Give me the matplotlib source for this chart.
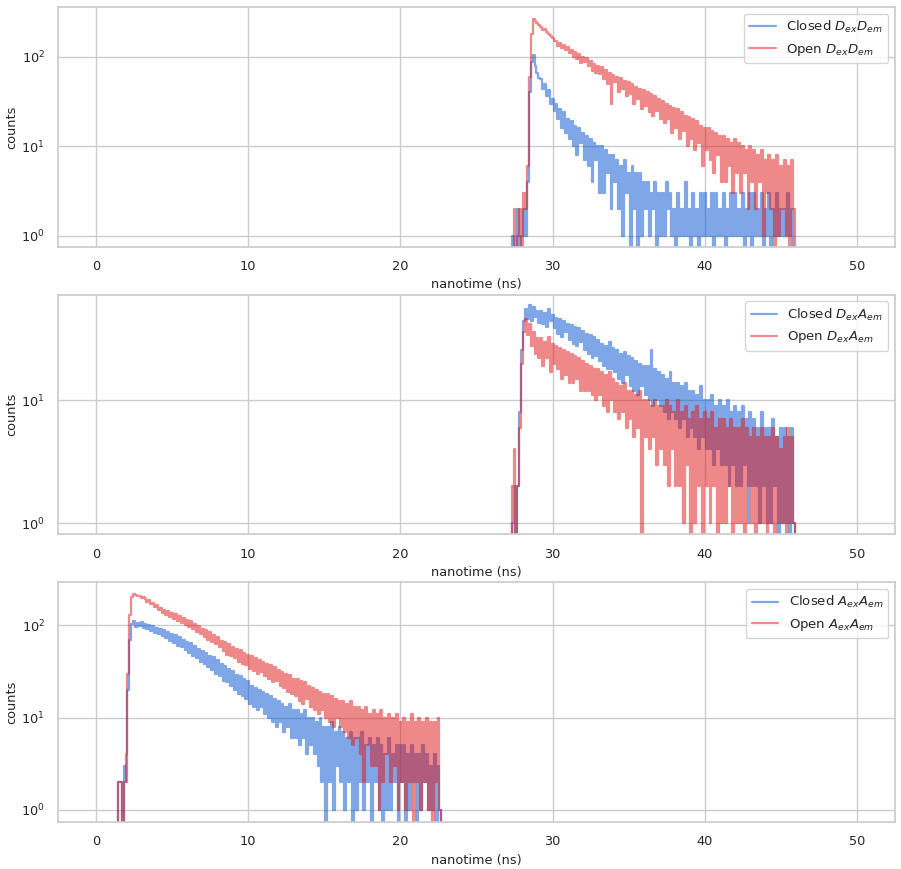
import numpy as np
import matplotlib
matplotlib.use('Agg')
import matplotlib.pyplot as plt
import seaborn as sns

# Photon arrival histograms (counts per 0.125 ns bin).
# Each row of 8 values covers 1 ns.
bin_width = 0.125

# DexDem and DexAem channels start at 27.25 ns
t0_dex = 27.25
closed_dd = [0, 1, 0, 0, 2, 0, 1, 2,
             1, 4, 40, 88, 104, 78, 66, 58,
             56, 44, 50, 36, 42, 30, 34, 25,
             30, 20, 26, 16, 24, 14, 20, 12,
             19, 10, 17, 8, 16, 11, 14, 7,
             13, 6, 12, 4, 11, 7, 10, 3,
             10, 3, 9, 5, 8, 2, 8, 4,
             7, 2, 6, 1, 7, 3, 5, 0,
             6, 2, 5, 0, 5, 1, 4, 2,
             4, 1, 3, 2, 4, 0, 3, 1,
             3, 1, 4, 2, 3, 1, 2, 0,
             3, 1, 2, 1, 4, 1, 2, 0,
             3, 1, 2, 0, 3, 1, 3, 1,
             2, 1, 3, 0, 3, 1, 2, 1,
             3, 0, 2, 1, 3, 1, 3, 1,
             2, 1, 3, 0, 2, 1, 3, 0,
             3, 1, 2, 1, 3, 0, 2, 1,
             3, 0, 2, 1, 3, 1, 2, 1,
             2, 1, 3, 1, 2, 0, 0]
open_dd = [0, 0, 2, 0, 1, 2, 0, 3,
           2, 6, 60, 180, 266, 248, 236, 228,
           214, 200, 206, 188, 180, 172, 164, 150,
           148, 132, 142, 124, 136, 118, 128, 110,
           120, 100, 112, 94, 108, 86, 100, 88,
           96, 78, 90, 70, 84, 66, 78, 64,
           76, 56, 72, 50, 66, 30, 62, 52,
           60, 40, 58, 44, 54, 36, 52, 38,
           50, 30, 46, 34, 44, 26, 42, 28,
           40, 24, 38, 22, 36, 25, 34, 20,
           32, 18, 30, 20, 28, 14, 27, 16,
           26, 12, 24, 15, 22, 10, 21, 12,
           20, 9, 19, 11, 17, 6, 16, 9,
           16, 7, 15, 5, 14, 8, 13, 4,
           13, 4, 12, 6, 11, 3, 12, 5,
           11, 3, 10, 5, 9, 2, 10, 4,
           9, 2, 8, 4, 9, 1, 7, 3,
           8, 2, 7, 0, 8, 1, 6, 2,
           7, 1, 6, 0, 7, 2, 0]
closed_da = [0, 1, 2, 0, 2, 8, 26, 44,
             56, 46, 60, 44, 58, 48, 54, 43,
             54, 42, 52, 40, 56, 44, 50, 39,
             47, 35, 46, 33, 44, 36, 42, 31,
             41, 29, 40, 28, 39, 30, 37, 26,
             35, 24, 34, 22, 33, 23, 31, 21,
             29, 19, 28, 18, 30, 18, 27, 17,
             26, 15, 24, 14, 25, 16, 23, 13,
             22, 12, 21, 11, 20, 13, 19, 11,
             19, 10, 26, 9, 18, 10, 17, 9,
             16, 8, 15, 7, 17, 8, 14, 7,
             14, 6, 13, 7, 14, 5, 12, 6,
             12, 5, 11, 4, 13, 5, 10, 4,
             10, 4, 11, 3, 9, 4, 10, 3,
             9, 3, 10, 2, 8, 3, 9, 2,
             8, 2, 9, 3, 7, 1, 8, 2,
             7, 2, 6, 1, 8, 2, 6, 1,
             6, 1, 7, 2, 5, 0, 6, 1,
             6, 1, 5, 0, 6, 1, 0]
open_da = [0, 2, 4, 0, 2, 6, 20, 36,
           46, 34, 42, 28, 36, 24, 32, 22,
           32, 19, 30, 22, 33, 17, 29, 20,
           28, 18, 27, 15, 26, 16, 25, 14,
           24, 14, 23, 15, 22, 12, 21, 12,
           20, 12, 19, 11, 18, 10, 18, 11,
           17, 9, 16, 8, 17, 10, 15, 8,
           14, 7, 13, 8, 14, 6, 12, 7,
           12, 5, 11, 6, 12, 0, 10, 5,
           10, 4, 9, 5, 10, 3, 9, 4,
           9, 3, 10, 2, 9, 4, 8, 2,
           10, 2, 8, 1, 9, 3, 7, 0,
           8, 1, 9, 2, 7, 0, 8, 2,
           7, 1, 8, 2, 6, 0, 7, 1,
           7, 1, 6, 2, 7, 0, 6, 1,
           6, 1, 7, 0, 6, 2, 5, 1,
           6, 0, 5, 1, 6, 1, 5, 0,
           5, 1, 6, 0, 5, 1, 4, 1,
           5, 0, 6, 1, 5, 1, 0]

# AexAem channel starts at 1.25 ns
t0_aex = 1.25
closed_aa = [0, 0, 2, 2, 0, 3, 2, 20,
             70, 102, 110, 96, 106, 98, 108, 94,
             104, 90, 100, 86, 98, 82, 94, 80,
             92, 76, 88, 72, 84, 68, 80, 64,
             78, 60, 74, 58, 70, 54, 66, 50,
             64, 46, 60, 44, 56, 40, 52, 38,
             50, 35, 47, 33, 45, 30, 42, 28,
             38, 25, 36, 24, 34, 22, 32, 20,
             29, 18, 28, 17, 26, 16, 25, 14,
             22, 13, 21, 12, 20, 13, 19, 11,
             18, 10, 17, 9, 16, 8, 15, 9,
             14, 7, 13, 8, 14, 6, 12, 6,
             12, 5, 11, 6, 12, 4, 10, 5,
             10, 4, 9, 3, 10, 2, 8, 0,
             8, 2, 9, 1, 7, 3, 8, 2,
             7, 1, 6, 2, 7, 0, 6, 1,
             6, 2, 7, 1, 5, 2, 6, 0,
             5, 2, 6, 1, 5, 0, 4, 1,
             6, 1, 4, 2, 5, 0, 5, 2,
             5, 0, 4, 1, 5, 2, 4, 0,
             4, 1, 5, 2, 4, 1, 3, 1,
             4, 0, 3, 1, 0]
open_aa = [0, 0, 2, 2, 0, 2, 4, 30,
           130, 204, 220, 214, 208, 210, 198, 204,
           192, 178, 186, 168, 174, 158, 164, 146,
           152, 136, 148, 128, 142, 124, 136, 118,
           132, 112, 126, 106, 120, 100, 114, 96,
           110, 90, 104, 84, 98, 80, 92, 74,
           88, 70, 84, 66, 78, 62, 74, 58,
           68, 52, 66, 48, 62, 46, 58, 44,
           56, 40, 54, 38, 50, 37, 48, 34,
           46, 32, 44, 30, 42, 31, 40, 28,
           38, 26, 37, 24, 35, 25, 33, 22,
           31, 21, 30, 19, 29, 18, 26, 17,
           26, 15, 25, 14, 24, 16, 22, 13,
           21, 12, 20, 11, 19, 12, 18, 10,
           18, 9, 17, 8, 16, 10, 15, 8,
           15, 7, 14, 6, 15, 5, 13, 6,
           13, 4, 12, 2, 13, 5, 11, 3,
           12, 3, 11, 1, 12, 2, 10, 4,
           11, 2, 10, 3, 11, 1, 9, 2,
           10, 1, 9, 2, 11, 0, 9, 2,
           10, 1, 9, 2, 10, 1, 9, 0,
           9, 2, 10, 1, 0]

panels = [
    (t0_dex, closed_dd, open_dd, '$D_{ex}D_{em}$', (0.755, 359)),
    (t0_dex, closed_da, open_da, '$D_{ex}A_{em}$', (0.81, 72.8)),
    (t0_aex, closed_aa, open_aa, '$A_{ex}A_{em}$', (0.74, 292)),
]

sns.set_theme(style='whitegrid')
plt.rcParams['font.family'] = ['DejaVu Sans']

blue = '#0050d0'
red = '#e11515'

fig, axes = plt.subplots(3, 1, figsize=(9.01, 8.69), dpi=100)
fig.subplots_adjust(left=0.0644, right=0.9933, top=0.9919, bottom=0.0541, hspace=0.2)

for ax, (t0, closed, opened, name, ylim) in zip(axes, panels):
    t_closed = t0 + bin_width * np.arange(len(closed))
    t_open = t0 + bin_width * np.arange(len(opened))
    ax.plot(t_closed, closed, color=blue, alpha=0.5, lw=1.6, drawstyle='steps-mid',
            label='Closed ' + name)
    ax.plot(t_open, opened, color=red, alpha=0.5, lw=1.6, drawstyle='steps-mid',
            label='Open ' + name)
    ax.set_yscale('log')
    ax.set_xlim(-2.5, 52.5)
    ax.set_ylim(*ylim)
    ax.minorticks_off()
    ax.set_xlabel('nanotime (ns)', fontsize=9.3)
    ax.set_ylabel('counts', fontsize=9.3, labelpad=2)
    ax.tick_params(labelsize=9.3)
    ax.legend(loc='upper right', fontsize=9.5)

fig.savefig('out.png', dpi=100)
